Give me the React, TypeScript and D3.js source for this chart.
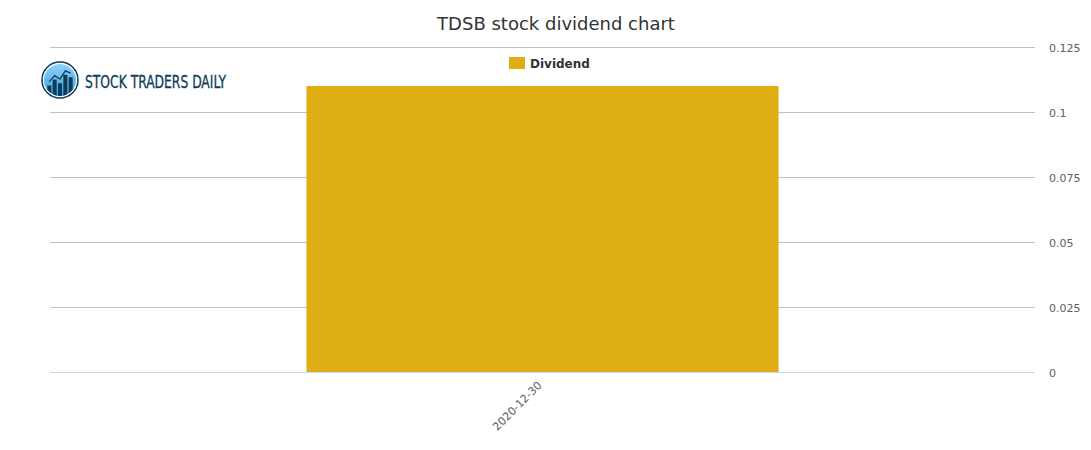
import React from "react";
import * as d3 from "d3";

const categories = ["2020-12-30"];
const dividends = [0.11];
const yTicks = [0, 0.025, 0.05, 0.075, 0.1, 0.125];
const tickLabels = ["0", "0.025", "0.05", "0.075", "0.1", "0.125"];
const logoBars = [0.35, 0.6, 0.45, 0.8, 0.7];

const W = 1091;
const H = 450;
const margin = { top: 47, right: 56, bottom: 78, left: 50 };

const App = () => {
  const innerW = W - margin.left - margin.right;
  const innerH = H - margin.top - margin.bottom;

  const x = d3.scaleBand().domain(categories).range([0, innerW]).paddingInner(0.352).paddingOuter(0.352);
  const y = d3.scaleLinear().domain([0, 0.125]).range([innerH, 0]);

  const font = "'DejaVu Sans', sans-serif";

  // small logo icon scales
  const lx = d3.scaleBand().domain(logoBars.map((_, i) => String(i))).range([-14, 14]).padding(0.25);
  const ly = d3.scaleLinear().domain([0, 1]).range([14, -10]);

  return (
    <svg width={W} height={H} style={{ display: "block", position: "absolute", left: 0, top: 0 }}>
      <rect width={W} height={H} fill="#ffffff" />
      <text x={556} y={30} textAnchor="middle" fontFamily={font} fontSize={18} fill="#333333">
        TDSB stock dividend chart
      </text>

      <g transform={`translate(${margin.left},${margin.top})`}>
        {yTicks.map((t, i) => (
          <g key={t}>
            {t !== 0 && (
              <line x1={0} x2={innerW} y1={y(t)} y2={y(t)} stroke="#c0c0c0" strokeWidth={1} shapeRendering="crispEdges" />
            )}
            <text x={innerW + 14} y={y(t) + 5} fontFamily={font} fontSize={11} fill="#606060">
              {tickLabels[i]}
            </text>
          </g>
        ))}

        {categories.map((c, i) => (
          <rect
            key={c}
            x={x(c)}
            y={y(dividends[i])}
            width={x.bandwidth()}
            height={innerH - y(dividends[i])}
            fill="#dfae15"
          />
        ))}

        <line x1={0} x2={innerW} y1={innerH} y2={innerH} stroke="#ccd6eb" strokeWidth={1} shapeRendering="crispEdges" />

        {categories.map((c) => (
          <text
            key={c}
            transform={`translate(${(x(c) ?? 0) + x.bandwidth() / 2},${innerH + 14}) rotate(-45)`}
            textAnchor="end"
            fontFamily={font}
            fontSize={11}
            fill="#606060"
          >
            {c}
          </text>
        ))}
      </g>

      {/* legend */}
      <rect x={509} y={57} width={16} height={12} fill="#dfae15" />
      <text x={530} y={68} fontFamily={font} fontSize={12} fontWeight="bold" fill="#333333">
        Dividend
      </text>

      {/* logo */}
      <defs>
        <linearGradient id="logoGrad" x1="0" y1="0" x2="0" y2="1">
          <stop offset="0" stopColor="#8fd3f7" />
          <stop offset="1" stopColor="#3a9ede" />
        </linearGradient>
        <clipPath id="logoClip">
          <circle cx={0} cy={0} r={16} />
        </clipPath>
      </defs>
      <g transform="translate(60,80)">
        <circle r={18} fill="#ffffff" stroke="#0d3c5a" strokeWidth={1.5} />
        <circle r={16} fill="url(#logoGrad)" />
        <g clipPath="url(#logoClip)">
          {logoBars.map((v, i) => (
            <rect key={i} x={lx(String(i))} y={ly(v)} width={lx.bandwidth()} height={20 - ly(v)} fill="#0d3c5a" />
          ))}
          <path
            d={d3.line()(logoBars.map((v, i) => [(lx(String(i)) ?? 0) + lx.bandwidth() / 2, ly(v) - 4]))}
            fill="none"
            stroke="#0d3c5a"
            strokeWidth={1.3}
          />
        </g>
      </g>
      <text
        x={85}
        y={88}
        fontFamily="'Liberation Sans Narrow', 'DejaVu Sans Condensed', sans-serif"
        fontSize={17}
        fill="#0d3c5a"
        stroke="#0d3c5a"
        strokeWidth={0.3}
        textLength={141}
        lengthAdjust="spacingAndGlyphs"
      >
        STOCK TRADERS DAILY
      </text>
    </svg>
  );
};

export default App;
